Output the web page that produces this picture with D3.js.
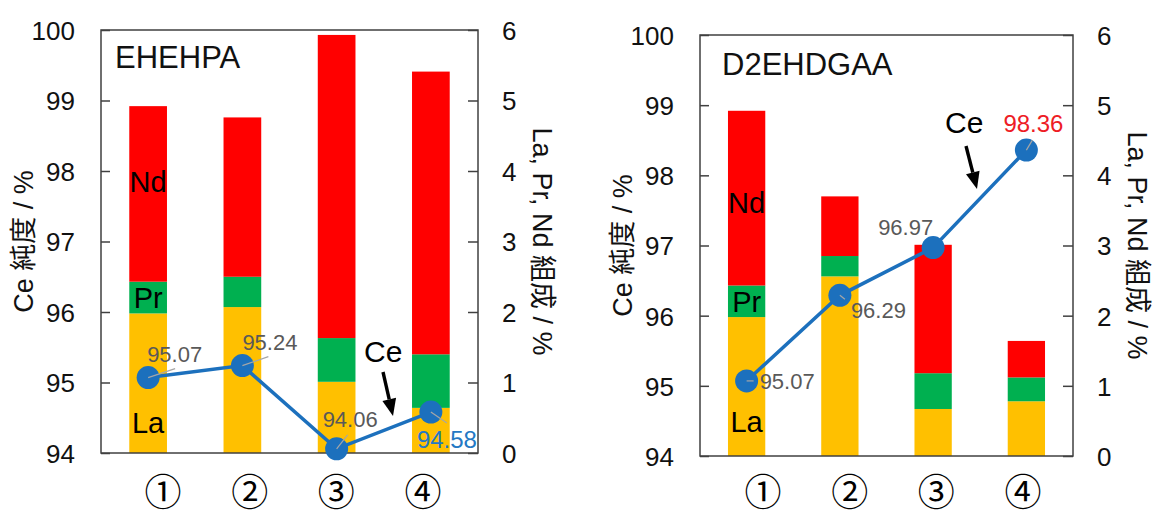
<!DOCTYPE html>
<html><head><meta charset="utf-8">
<script src="https://cdn.jsdelivr.net/npm/d3@7"></script>
<style>
html,body{margin:0;padding:0;background:#fff;}
svg{display:block;}
</style></head>
<body>
<svg id="chart" width="1154" height="518"></svg>
<script>
// ---------- DATA ----------
const categories = ["①", "②", "③", "④"];
const leftTicks = [94, 95, 96, 97, 98, 99, 100];
const rightTicks = [0, 1, 2, 3, 4, 5, 6];
const seriesNames = ["La", "Pr", "Nd"];
const leftAxisTitle = "Ce 純度 / %";
const rightAxisTitle = "La, Pr, Nd 組成 / %";
const lineName = "Ce";

const ehehpaLa = [1.98, 2.07, 1.01, 0.64];
const ehehpaPr = [0.45, 0.43, 0.62, 0.76];
const ehehpaNd = [2.49, 2.26, 4.30, 4.01];
const ehehpaCe = [95.07, 95.24, 94.06, 94.58];

const d2ehdgaaLa = [1.98, 2.56, 0.67, 0.78];
const d2ehdgaaPr = [0.45, 0.29, 0.51, 0.34];
const d2ehdgaaNd = [2.49, 0.85, 1.83, 0.52];
const d2ehdgaaCe = [95.07, 96.29, 96.97, 98.36];

// ---------- STYLE / LAYOUT ----------
const colors = { La: "#FFC000", Pr: "#00B050", Nd: "#FF0000" };
const lineColor = "#1C70BD";
const gray = "#595959";
const latin = "'Liberation Sans', Arial, sans-serif";
const cjk = "'Liberation Sans', 'Noto Sans CJK JP', sans-serif";

const panels = [
  {
    title: "EHEHPA", la: ehehpaLa, pr: ehehpaPr, nd: ehehpaNd, ce: ehehpaCe,
    frame: { x0: 101, x1: 478, y0: 30, y1: 453 },
    titlePos: [14, 38],
    labelColors: [gray, gray, gray, "#2478C4"],
    labelSizes: [22, 22, 22, 24],
    labelLayout: [
      { dx: -1, dy: -16, lx: 27, ly: -9 },
      { dx: 0, dy: -16, lx: 26, ly: -9 },
      { dx: -14, dy: -22, lx: 11, ly: -14 },
      { dx: -14, dy: 36, lx: 16, ly: 11 }
    ],
    cePos: [263, 332],
    arrow: [282, 342, 292, 386],
    elemY: { Nd: 162, Pr: 278, La: 403 },
    xLabelRange: [62, -55]
  },
  {
    title: "D2EHDGAA", la: d2ehdgaaLa, pr: d2ehdgaaPr, nd: d2ehdgaaNd, ce: d2ehdgaaCe,
    frame: { x0: 700, x1: 1073, y0: 35, y1: 456 },
    titlePos: [22, 40],
    labelColors: [gray, gray, gray, "#EE1C25"],
    labelSizes: [22, 22, 22, 24],
    labelLayout: [
      { dx: 13, dy: 8, lx: 7, ly: 0 },
      { dx: 11, dy: 23, lx: 5, ly: 4 },
      { dx: -55, dy: -13, lx: 0, ly: 0 },
      { dx: -23, dy: -18, lx: 6, ly: -10 }
    ],
    cePos: [245, 98],
    arrow: [266, 111, 277, 154],
    elemY: { Nd: 178, Pr: 277, La: 397 },
    xLabelRange: [63, -50]
  }
];

const svg = d3.select("#chart");

function drawArrow(g, x1, y1, x2, y2) {
  const ang = Math.atan2(y2 - y1, x2 - x1);
  const hl = 17, hw = 7;
  const bx = x2 - hl * Math.cos(ang), by = y2 - hl * Math.sin(ang);
  g.append("line").attr("x1", x1).attr("y1", y1).attr("x2", bx).attr("y2", by)
    .attr("stroke", "#000").attr("stroke-width", 3.4);
  const px = -Math.sin(ang), py = Math.cos(ang);
  g.append("path")
    .attr("d", `M${x2},${y2}L${bx + px * hw},${by + py * hw}L${bx - px * hw},${by - py * hw}Z`)
    .attr("fill", "#000");
}

panels.forEach(p => {
  const f = p.frame;
  const W = f.x1 - f.x0, H = f.y1 - f.y0;
  const g = svg.append("g").attr("transform", `translate(${f.x0},${f.y0})`);

  const x = d3.scaleBand().domain(categories).range([0, W]).paddingInner(0.6).paddingOuter(0.3);
  const yL = d3.scaleLinear().domain([94, 100]).range([H, 0]);
  const yR = d3.scaleLinear().domain([0, 6]).range([H, 0]);
  const xLab = d3.scalePoint().domain(categories).range([p.xLabelRange[0], W + p.xLabelRange[1]]);

  // stacked bars
  const rows = categories.map((c, i) => ({ cat: c, La: p.la[i], Pr: p.pr[i], Nd: p.nd[i] }));
  const stacked = d3.stack().keys(seriesNames)(rows);
  g.selectAll("g.series").data(stacked).join("g")
    .attr("fill", d => colors[d.key])
    .selectAll("rect").data(d => d).join("rect")
    .attr("x", d => x(d.data.cat))
    .attr("width", x.bandwidth())
    .attr("y", d => yR(d[1]))
    .attr("height", d => yR(d[0]) - yR(d[1]));

  // element labels on first bar
  seriesNames.forEach(s => {
    g.append("text").text(s)
      .attr("x", x(categories[0]) + x.bandwidth() / 2)
      .attr("y", p.elemY[s])
      .attr("text-anchor", "middle")
      .attr("font-family", latin).attr("font-size", 29).attr("fill", "#000");
  });

  // frame + axes
  g.append("rect").attr("x", 0).attr("y", 0).attr("width", W).attr("height", H)
    .attr("fill", "none").attr("stroke", "#404040").attr("stroke-width", 1.5);

  const leftAxis = d3.axisLeft(yL).tickValues(leftTicks).tickSize(-9).tickPadding(26)
    .tickFormat(d3.format("d"));
  const gl = g.append("g").call(leftAxis);
  gl.select(".domain").remove();
  gl.selectAll(".tick line").attr("stroke", "#404040").attr("stroke-width", 1.5);
  gl.selectAll(".tick text").attr("font-family", latin).attr("font-size", 26)
    .attr("fill", "#111").attr("dy", "0.36em");

  const rightAxis = d3.axisRight(yR).tickValues(rightTicks).tickSize(-10).tickPadding(24)
    .tickFormat(d3.format("d"));
  const gr = g.append("g").attr("transform", `translate(${W},0)`).call(rightAxis);
  gr.select(".domain").remove();
  gr.selectAll(".tick line").attr("stroke", "#404040").attr("stroke-width", 1.5);
  gr.selectAll(".tick text").attr("font-family", latin).attr("font-size", 26)
    .attr("fill", "#111").attr("dy", "0.36em");

  // x labels (circled numbers)
  g.selectAll("text.xlab").data(categories).join("text")
    .attr("class", "xlab").text(d => d)
    .attr("x", d => xLab(d)).attr("y", 494 - f.y0)
    .attr("dy", "0.33em")
    .attr("text-anchor", "middle")
    .attr("font-family", "'Noto Sans CJK JP', sans-serif").attr("font-size", 37).attr("fill", "#000");

  // axis titles
  g.append("text").text(leftAxisTitle)
    .attr("transform", `translate(${-77},${H / 2}) rotate(-90)`)
    .attr("text-anchor", "middle").attr("dominant-baseline", "central")
    .attr("font-family", cjk).attr("font-size", 27).attr("fill", "#111");
  g.append("text").text(rightAxisTitle)
    .attr("transform", `translate(${W + 64},${H / 2}) rotate(90)`)
    .attr("text-anchor", "middle").attr("dominant-baseline", "central")
    .attr("font-family", cjk).attr("font-size", 27).attr("fill", "#111");

  // panel title
  g.append("text").text(p.title).attr("x", p.titlePos[0]).attr("y", p.titlePos[1])
    .attr("font-family", latin).attr("font-size", 31).attr("fill", "#111");

  // Ce line
  const cx = i => x(categories[i]) + x.bandwidth() / 2;
  const line = d3.line().x((d, i) => cx(i)).y(d => yL(d));
  g.append("path").datum(p.ce).attr("d", line)
    .attr("fill", "none").attr("stroke", lineColor).attr("stroke-width", 3.5);
  g.selectAll("circle.pt").data(p.ce).join("circle").attr("class", "pt")
    .attr("cx", (d, i) => cx(i)).attr("cy", d => yL(d)).attr("r", 11.5)
    .attr("fill", lineColor);

  // leader lines + value labels
  p.ce.forEach((v, i) => {
    const L = p.labelLayout[i];
    if (L.lx || L.ly) {
      g.append("line")
        .attr("x1", cx(i)).attr("y1", yL(v))
        .attr("x2", cx(i) + L.lx).attr("y2", yL(v) + L.ly)
        .attr("stroke", "#A6A6A6").attr("stroke-width", 1.2);
    }
    g.append("text").text(d3.format(".2f")(v))
      .attr("x", cx(i) + L.dx).attr("y", yL(v) + L.dy)
      .attr("font-family", latin).attr("font-size", p.labelSizes[i])
      .attr("fill", p.labelColors[i]);
  });

  // Ce annotation
  g.append("text").text(lineName).attr("x", p.cePos[0]).attr("y", p.cePos[1])
    .attr("font-family", latin).attr("font-size", 30).attr("fill", "#000");
  drawArrow(g, ...p.arrow);
});
</script>
</body></html>
